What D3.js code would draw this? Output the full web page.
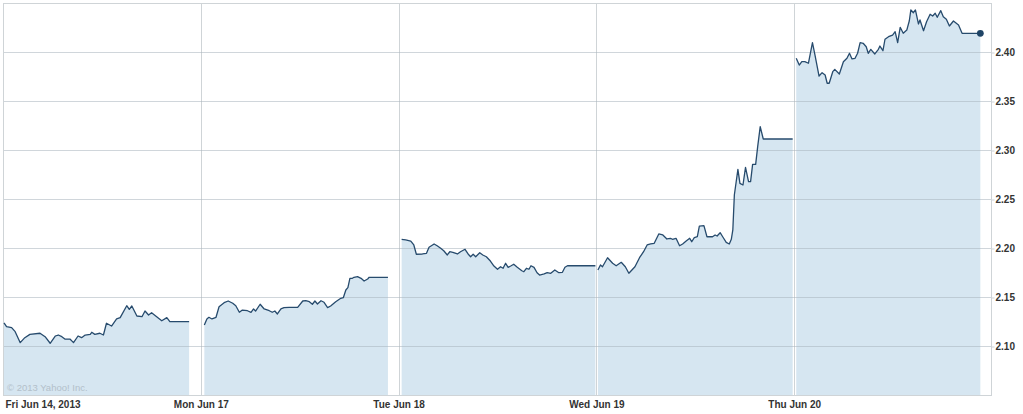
<html>
<head>
<style>
body{margin:0;background:#fff;}
svg text{font-family:"Liberation Sans",Arial,sans-serif;}
</style>
</head>
<body>
<svg id="graph" width="1023" height="414"></svg>
</body>
<script src="https://d3js.org/d3.v7.min.js"></script>
<script>
// tick labels
var dayLabels = ["Fri Jun 14, 2013","Mon Jun 17","Tue Jun 18","Wed Jun 19","Thu Jun 20"];
var priceTicks = [2.10,2.15,2.20,2.25,2.30,2.35,2.40];

// [minutes after open, price] for each trading day
var fri = [[2,2.1235],[7,2.1197],[17,2.1187],[24,2.1146],[34,2.1034],[43,2.1085],[53,2.1119],[73,2.1130],[83,2.1095],[93,2.1028],[103,2.1102],[109,2.1112],[116,2.1095],[122,2.1071],[132,2.1071],[139,2.1034],[148,2.1102],[155,2.1085],[162,2.1112],[172,2.1119],[175,2.1140],[181,2.1119],[191,2.1130],[198,2.1112],[204,2.1232],[214,2.1204],[224,2.1276],[231,2.1289],[244,2.1411],[249,2.1374],[254,2.1408],[264,2.1306],[274,2.1299],[280,2.1357],[287,2.1316],[293,2.1340],[303,2.1299],[313,2.1258],[323,2.1289],[329,2.1248],[367,2.1248]];
var mon = [[7,2.1214],[12,2.1276],[16,2.1293],[22,2.1276],[30,2.1293],[36,2.1401],[46,2.1442],[54,2.1459],[63,2.1436],[69,2.1411],[76,2.1344],[82,2.1367],[92,2.1360],[99,2.1344],[104,2.1378],[108,2.1357],[117,2.1426],[125,2.1378],[135,2.1360],[141,2.1344],[146,2.1357],[151,2.1327],[158,2.1378],[164,2.1391],[174,2.1395],[191,2.1395],[201,2.1459],[207,2.1462],[214,2.1452],[220,2.1426],[225,2.1459],[230,2.1429],[237,2.1462],[243,2.1446],[250,2.1391],[256,2.1408],[266,2.1452],[276,2.1487],[281,2.1493],[286,2.1571],[290,2.1595],[294,2.1691],[299,2.1691],[302,2.1701],[309,2.1707],[316,2.1691],[322,2.1663],[329,2.1684],[332,2.1701],[369,2.1701]];
var tue = [[6,2.2089],[14,2.2082],[24,2.2071],[30,2.2031],[35,2.1936],[47,2.1939],[55,2.1946],[60,2.2007],[70,2.2041],[76,2.2023],[83,2.1997],[89,2.1972],[96,2.1929],[101,2.1962],[107,2.1956],[116,2.1939],[122,2.1962],[131,2.1987],[137,2.1939],[142,2.1911],[147,2.1936],[152,2.1911],[160,2.1952],[166,2.1929],[173,2.1911],[181,2.1867],[188,2.1816],[195,2.1783],[201,2.1809],[206,2.1793],[211,2.1844],[216,2.1803],[221,2.1816],[227,2.1834],[234,2.1803],[243,2.1768],[247,2.1758],[252,2.1793],[257,2.1783],[261,2.1819],[267,2.1803],[273,2.1748],[278,2.1724],[287,2.1735],[293,2.1748],[300,2.1742],[308,2.1776],[316,2.1748],[323,2.1752],[328,2.1803],[333,2.1819],[388,2.1819]];
var wed = [[3,2.1776],[8,2.1827],[12,2.1809],[22,2.1901],[32,2.1844],[39,2.1819],[49,2.1854],[57,2.1809],[64,2.1742],[70,2.1776],[76,2.1809],[85,2.1901],[93,2.1962],[100,2.2031],[107,2.2041],[114,2.2048],[123,2.2143],[131,2.2133],[139,2.2092],[146,2.2099],[150,2.2089],[157,2.2099],[164,2.2023],[170,2.2041],[177,2.2071],[184,2.2099],[188,2.2064],[193,2.2105],[199,2.2115],[203,2.2224],[212,2.2228],[218,2.2115],[229,2.2115],[234,2.2133],[238,2.2122],[244,2.2156],[249,2.2115],[256,2.2058],[262,2.2041],[266,2.2089],[269,2.2184],[272,2.2541],[279,2.2803],[283,2.2660],[289,2.2643],[294,2.2823],[300,2.2677],[304,2.2677],[308,2.2854],[314,2.2854],[318,2.3034],[323,2.3238],[329,2.3112],[387,2.3112]];
var thu = [[4,2.3936],[10,2.3867],[15,2.3901],[21,2.3901],[28,2.3885],[36,2.4095],[41,2.3969],[49,2.3755],[55,2.3789],[61,2.3765],[65,2.3681],[69,2.3681],[76,2.3799],[80,2.3823],[89,2.3776],[97,2.3901],[104,2.3936],[109,2.3987],[114,2.3929],[120,2.3936],[125,2.3987],[130,2.4095],[136,2.4089],[142,2.4054],[146,2.3987],[151,2.4027],[159,2.3980],[166,2.4027],[169,2.4061],[175,2.4013],[179,2.4130],[186,2.4156],[194,2.4173],[199,2.4207],[204,2.4095],[209,2.4252],[215,2.4191],[222,2.4224],[227,2.4319],[230,2.4429],[235,2.4401],[239,2.4429],[245,2.4286],[248,2.4327],[255,2.4217],[261,2.4309],[268,2.4385],[273,2.4367],[278,2.4395],[282,2.4354],[289,2.4422],[294,2.4360],[300,2.4334],[306,2.4265],[314,2.4316],[324,2.4276],[331,2.4191],[367,2.4191]];

var days = [fri,mon,tue,wed,thu];
var sessionMinutes = 390;

var plotLeft = 3, plotRight = 991, plotTop = 3, plotBottom = 395;
var svg = d3.select('#graph');

var x = d3.scaleLinear().domain([0,5]).range([plotLeft,992]);
var y = d3.scaleLinear().domain([2.05,2.45]).range([plotBottom,plotTop]);

function xPos(dayIdx){
	return function(d){return x(dayIdx + d[0]/sessionMinutes);};
}

// vertical day lines behind the fill
svg.append('g')
	.selectAll('line')
	.data(d3.range(dayLabels.length))
	.enter()
	.append('line')
	.attr('x1',function(d){return Math.round(x(d))+0.5;})
	.attr('x2',function(d){return Math.round(x(d))+0.5;})
	.attr('y1',plotTop)
	.attr('y2',plotBottom)
	.attr('stroke','#cfd4d7');

// filled areas, one per day
days.forEach(function(pts,i){
	var area = d3.area()
		.x(xPos(i))
		.y0(y(2.05))
		.y1(function(d){return y(d[1]);});
	svg.append('path')
		.datum(pts)
		.attr('d',area)
		.attr('fill','#d6e6f1');
});

// horizontal grid
svg.append('g')
	.selectAll('line')
	.data(priceTicks)
	.enter()
	.append('line')
	.attr('x1',plotLeft)
	.attr('x2',plotRight)
	.attr('y1',function(d){return Math.round(y(d))+0.5;})
	.attr('y2',function(d){return Math.round(y(d))+0.5;})
	.attr('stroke','#a9b5bd')
	.attr('stroke-opacity',0.55);

// frame
svg.append('rect')
	.attr('x',plotLeft+0.5)
	.attr('y',plotTop+0.5)
	.attr('width',plotRight-plotLeft)
	.attr('height',plotBottom-plotTop)
	.attr('fill','none')
	.attr('stroke','#cfd4d7');

svg.append('text')
	.attr('x',7)
	.attr('y',391)
	.style('font-size','9.5px')
	.style('fill','#b3c0ca')
	.text('\u00a9 2013 Yahoo! Inc.');

// price lines
days.forEach(function(pts,i){
	var line = d3.line()
		.x(xPos(i))
		.y(function(d){return y(d[1]);});
	svg.append('path')
		.datum(pts)
		.attr('d',line)
		.attr('fill','none')
		.attr('stroke','#274b6d')
		.attr('stroke-width',1.3)
		.attr('stroke-linejoin','round');
});

var last = thu[thu.length-1];
svg.append('circle')
	.attr('cx',x(4 + last[0]/sessionMinutes))
	.attr('cy',y(last[1]))
	.attr('r',3.4)
	.attr('fill','#1f4466');

// axes
var yAxis = d3.axisRight(y)
	.tickValues(priceTicks)
	.tickSize(3)
	.tickPadding(1)
	.tickFormat(d3.format('.2f'));
var yg = svg.append('g')
	.attr('transform','translate('+(plotRight+0.5)+',0.5)')
	.call(yAxis);
yg.select('.domain').remove();
yg.selectAll('line').attr('stroke','#cfd4d7');
yg.selectAll('text')
	.style('font-size','10px')
	.style('font-weight','bold')
	.style('font-family','"Liberation Sans",Arial,sans-serif')
	.attr('fill','#333');

var xAxis = d3.axisBottom(x)
	.tickValues(d3.range(dayLabels.length))
	.tickSize(0)
	.tickPadding(6)
	.tickFormat(function(d){return dayLabels[d];});
var xg = svg.append('g')
	.attr('transform','translate(0,'+plotBottom+')')
	.call(xAxis);
xg.select('.domain').remove();
xg.selectAll('text')
	.style('font-size','10px')
	.style('font-weight','bold')
	.style('font-family','"Liberation Sans",Arial,sans-serif')
	.attr('fill','#333');
xg.selectAll('.tick').filter(function(d){return d===0;})
	.select('text')
	.attr('text-anchor','start')
	.attr('x',2);
</script>
</html>
